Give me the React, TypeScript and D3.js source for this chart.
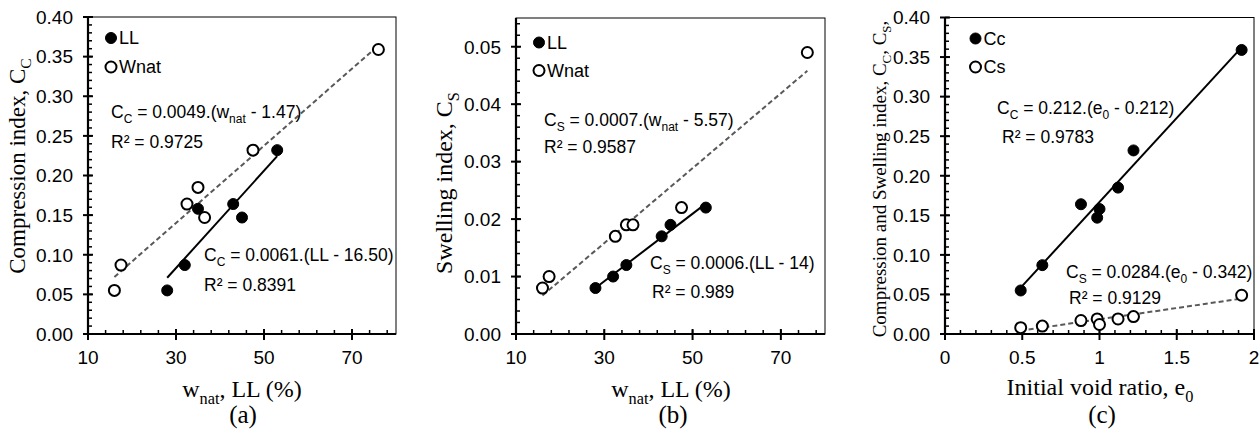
import React from "react";
import * as d3 from "d3";

// ---------- data ----------
const llValues = [28, 32, 35, 43, 45, 53];
const ccByLL = [0.055, 0.087, 0.158, 0.164, 0.147, 0.232];
const wnatValues = [16, 17.5, 32.5, 35, 36.5, 47.5, 76];
const ccByWnat = [0.055, 0.087, 0.164, 0.185, 0.147, 0.232, 0.359];
const csByLL = [0.008, 0.01, 0.012, 0.017, 0.019, 0.022];
const csByWnat = [0.008, 0.01, 0.017, 0.019, 0.019, 0.022, 0.049];
const e0Values = [0.49, 0.63, 0.88, 0.985, 1.0, 1.12, 1.22, 1.92];
const ccByE0 = [0.055, 0.087, 0.164, 0.147, 0.158, 0.185, 0.232, 0.359];
const csByE0 = [0.008, 0.01, 0.017, 0.019, 0.012, 0.019, 0.022, 0.049];

const xTicksW = [10, 30, 50, 70];
const xTicksE = [0, 0.5, 1, 1.5, 2];
const yTicksCc = [0, 0.05, 0.1, 0.15, 0.2, 0.25, 0.3, 0.35, 0.4];
const yTicksCs = [0, 0.01, 0.02, 0.03, 0.04, 0.05];

// ---------- helpers ----------
const SANS = "'Liberation Sans', Arial, sans-serif";
const SERIF = "'Liberation Serif', 'Times New Roman', serif";

function linreg(xs: number[], ys: number[]) {
  const mx = d3.mean(xs) as number;
  const my = d3.mean(ys) as number;
  let sxy = 0, sxx = 0;
  xs.forEach((x, i) => {
    sxy += (x - mx) * (ys[i] - my);
    sxx += (x - mx) * (x - mx);
  });
  const slope = sxy / sxx;
  return { slope, intercept: my - slope * mx };
}

type Part = { t: string; sub?: boolean };

function RichText({ x, y, parts, size, family, anchor, subSize, transform }: any) {
  let prevSub = false;
  return (
    <text x={x} y={y} fontSize={size} fontFamily={family} textAnchor={anchor || "start"} transform={transform} fill="#000">
      {parts.map((p: Part, i: number) => {
        let dy = 0;
        if (p.sub && !prevSub) dy = size * 0.28;
        if (!p.sub && prevSub) dy = -size * 0.28;
        prevSub = !!p.sub;
        return (
          <tspan key={i} dy={dy} fontSize={p.sub ? (subSize || size * 0.68) : size} style={{ whiteSpace: "pre" }}>
            {p.t}
          </tspan>
        );
      })}
    </text>
  );
}

type Series = { xs: number[]; ys: number[]; filled: boolean; label: string };

type PanelCfg = {
  left: number; right: number; top: number; bottom: number;
  xDomain: [number, number]; yDomain: [number, number];
  xTicks: number[]; yTicks: number[]; xMinor: number; yMinor: number;
  xFmt: (v: number) => string; yFmt: (v: number) => string;
  series: Series[];
  legend: { x: number; y: number; dy: number };
  eqs: { x: number; y: number; parts: Part[] }[];
  yTitle: { x: number; y: number; parts: Part[]; size: number };
  xTitle: { x: number; y: number; parts: Part[]; size: number };
  tag: { x: number; y: number; t: string };
};

function Panel({ p }: { p: PanelCfg }) {
  const x = d3.scaleLinear().domain(p.xDomain).range([p.left, p.right]);
  const y = d3.scaleLinear().domain(p.yDomain).range([p.bottom, p.top]);
  const eps = 1e-9;
  const xMinorTicks = d3.range(p.xDomain[0], p.xDomain[1] + eps, p.xMinor);
  const yMinorTicks = d3.range(p.yDomain[0], p.yDomain[1] + eps, p.yMinor);
  return (
    <g>
      <rect x={p.left} y={p.top} width={p.right - p.left} height={p.bottom - p.top} fill="none" stroke="#000" strokeWidth={1} />
      {/* minor ticks */}
      {yMinorTicks.map((v, i) => (
        <line key={"ym" + i} x1={p.left} x2={p.left + 4} y1={y(v)} y2={y(v)} stroke="#000" strokeWidth={1.5} />
      ))}
      {xMinorTicks.map((v, i) => (
        <line key={"xm" + i} x1={x(v)} x2={x(v)} y1={p.bottom} y2={p.bottom - 4} stroke="#000" strokeWidth={1.5} />
      ))}
      {/* major ticks */}
      {p.yTicks.map((v, i) => (
        <g key={"yt" + i}>
          <line x1={p.left - 5} x2={p.left + 5} y1={y(v)} y2={y(v)} stroke="#000" strokeWidth={2} />
          <text x={p.left - 15} y={y(v)} dy="0.36em" textAnchor="end" fontSize={19} fontFamily={SANS} fill="#000">
            {p.yFmt(v)}
          </text>
        </g>
      ))}
      {p.xTicks.map((v, i) => (
        <g key={"xt" + i}>
          <line x1={x(v)} x2={x(v)} y1={p.bottom - 5} y2={p.bottom + 6} stroke="#000" strokeWidth={2} />
          <text x={x(v)} y={364} textAnchor="middle" fontSize={19} fontFamily={SANS} fill="#000">
            {p.xFmt(v)}
          </text>
        </g>
      ))}
      {/* axes */}
      <line x1={p.left} x2={p.left} y1={p.top} y2={p.bottom} stroke="#000" strokeWidth={2.2} />
      <line x1={p.left} x2={p.right} y1={p.bottom} y2={p.bottom} stroke="#000" strokeWidth={2.2} />
      {/* trend lines */}
      {p.series.map((s, i) => {
        const r = linreg(s.xs, s.ys);
        const [x0, x1] = d3.extent(s.xs) as [number, number];
        return (
          <line
            key={"tr" + i}
            x1={x(x0)} y1={y(r.intercept + r.slope * x0)}
            x2={x(x1)} y2={y(r.intercept + r.slope * x1)}
            stroke={s.filled ? "#000" : "#595959"}
            strokeWidth={2}
            strokeDasharray={s.filled ? undefined : "5,3"}
          />
        );
      })}
      {/* markers */}
      {p.series.map((s, i) => (
        <g key={"mk" + i}>
          {s.xs.map((xv, j) => (
            <circle key={j} cx={x(xv)} cy={y(s.ys[j])} r={5.5}
              fill={s.filled ? "#000" : "#fff"} stroke="#000" strokeWidth={s.filled ? 1 : 2} />
          ))}
        </g>
      ))}
      {/* legend */}
      {p.series.map((s, i) => (
        <g key={"lg" + i}>
          <circle cx={p.legend.x} cy={p.legend.y + i * p.legend.dy} r={5.5}
            fill={s.filled ? "#000" : "#fff"} stroke="#000" strokeWidth={s.filled ? 1 : 2} />
          <text x={p.legend.x + 8} y={p.legend.y + i * p.legend.dy} dy="0.36em" fontSize={18} fontFamily={SANS} fill="#000">
            {s.label}
          </text>
        </g>
      ))}
      {/* equations */}
      {p.eqs.map((e, i) => (
        <RichText key={"eq" + i} x={e.x} y={e.y} parts={e.parts} size={17.5} family={SANS} subSize={12} />
      ))}
      {/* titles */}
      <RichText x={0} y={0} parts={p.yTitle.parts} size={p.yTitle.size} family={SERIF} anchor="middle"
        transform={`translate(${p.yTitle.x},${p.yTitle.y}) rotate(-90)`} />
      <RichText x={p.xTitle.x} y={p.xTitle.y} parts={p.xTitle.parts} size={p.xTitle.size} family={SERIF} anchor="middle" />
      <text x={p.tag.x} y={p.tag.y} textAnchor="middle" fontSize={25} fontFamily={SERIF} fill="#000">{p.tag.t}</text>
    </g>
  );
}

const fmt2 = d3.format(".2f");
const fmtE = (v: number) => String(v);
const fmtInt = (v: number) => String(v);

const panels: PanelCfg[] = [
  {
    left: 88, right: 396, top: 17, bottom: 334,
    xDomain: [10, 80], yDomain: [0, 0.4],
    xTicks: xTicksW, yTicks: yTicksCc, xMinor: 4, yMinor: 0.01,
    xFmt: fmtInt, yFmt: fmt2,
    series: [
      { xs: llValues, ys: ccByLL, filled: true, label: "LL" },
      { xs: wnatValues, ys: ccByWnat, filled: false, label: "Wnat" },
    ],
    legend: { x: 111, y: 38, dy: 29 },
    eqs: [
      { x: 111, y: 118, parts: [{ t: "C" }, { t: "C", sub: true }, { t: " = 0.0049.(w" }, { t: "nat", sub: true }, { t: " - 1.47)" }] },
      { x: 111, y: 148, parts: [{ t: "R² = 0.9725" }] },
      { x: 204, y: 261, parts: [{ t: "C" }, { t: "C", sub: true }, { t: " = 0.0061.(LL - 16.50)" }] },
      { x: 204, y: 291, parts: [{ t: "R² = 0.8391" }] },
    ],
    yTitle: { x: 25, y: 166, size: 23, parts: [{ t: "Compression index, C" }, { t: "C", sub: true }] },
    xTitle: { x: 242, y: 397, size: 24, parts: [{ t: "w" }, { t: "nat", sub: true }, { t: ", LL (%)" }] },
    tag: { x: 243, y: 423, t: "(a)" },
  },
  {
    left: 516, right: 825, top: 18, bottom: 334,
    xDomain: [10, 80], yDomain: [0, 0.055],
    xTicks: xTicksW, yTicks: yTicksCs, xMinor: 4, yMinor: 0.002,
    xFmt: fmtInt, yFmt: fmt2,
    series: [
      { xs: llValues, ys: csByLL, filled: true, label: "LL" },
      { xs: wnatValues, ys: csByWnat, filled: false, label: "Wnat" },
    ],
    legend: { x: 539, y: 42.5, dy: 28 },
    eqs: [
      { x: 544, y: 126, parts: [{ t: "C" }, { t: "S", sub: true }, { t: " = 0.0007.(w" }, { t: "nat", sub: true }, { t: " - 5.57)" }] },
      { x: 544, y: 153, parts: [{ t: "R² = 0.9587" }] },
      { x: 650, y: 269, parts: [{ t: "C" }, { t: "S", sub: true }, { t: " = 0.0006.(LL - 14)" }] },
      { x: 652, y: 298, parts: [{ t: "R² = 0.989" }] },
    ],
    yTitle: { x: 452, y: 183, size: 24, parts: [{ t: "Swelling index, C" }, { t: "S", sub: true }] },
    xTitle: { x: 671, y: 397, size: 24, parts: [{ t: "w" }, { t: "nat", sub: true }, { t: ", LL (%)" }] },
    tag: { x: 673, y: 423, t: "(b)" },
  },
  {
    left: 945, right: 1254, top: 17.5, bottom: 334,
    xDomain: [0, 2], yDomain: [0, 0.4],
    xTicks: xTicksE, yTicks: yTicksCc, xMinor: 0.1, yMinor: 0.01,
    xFmt: fmtE, yFmt: fmt2,
    series: [
      { xs: e0Values, ys: ccByE0, filled: true, label: "Cc" },
      { xs: e0Values, ys: csByE0, filled: false, label: "Cs" },
    ],
    legend: { x: 975.5, y: 38.5, dy: 28.5 },
    eqs: [
      { x: 997, y: 114, parts: [{ t: "C" }, { t: "C", sub: true }, { t: " = 0.212.(e" }, { t: "0", sub: true }, { t: " - 0.212)" }] },
      { x: 1002, y: 143, parts: [{ t: "R² = 0.9783" }] },
      { x: 1066, y: 278, parts: [{ t: "C" }, { t: "S", sub: true }, { t: " = 0.0284.(e" }, { t: "0", sub: true }, { t: " - 0.342)" }] },
      { x: 1069, y: 304, parts: [{ t: "R² = 0.9129" }] },
    ],
    yTitle: {
      x: 886, y: 179, size: 19,
      parts: [{ t: "Compression and Swelling index, C" }, { t: "C", sub: true }, { t: ", C" }, { t: "S", sub: true }, { t: "," }],
    },
    xTitle: { x: 1100, y: 395, size: 24, parts: [{ t: "Initial void ratio, e" }, { t: "0", sub: true }] },
    tag: { x: 1102, y: 423, t: "(c)" },
  },
];

export default function App() {
  return (
    <svg width={1259} height={439} viewBox="0 0 1259 439"
      style={{ position: "absolute", left: 0, top: 0, background: "#fff", display: "block" }}>
      <rect x={0} y={0} width={1259} height={439} fill="#fff" />
      {panels.map((p, i) => (
        <Panel key={i} p={p} />
      ))}
    </svg>
  );
}
